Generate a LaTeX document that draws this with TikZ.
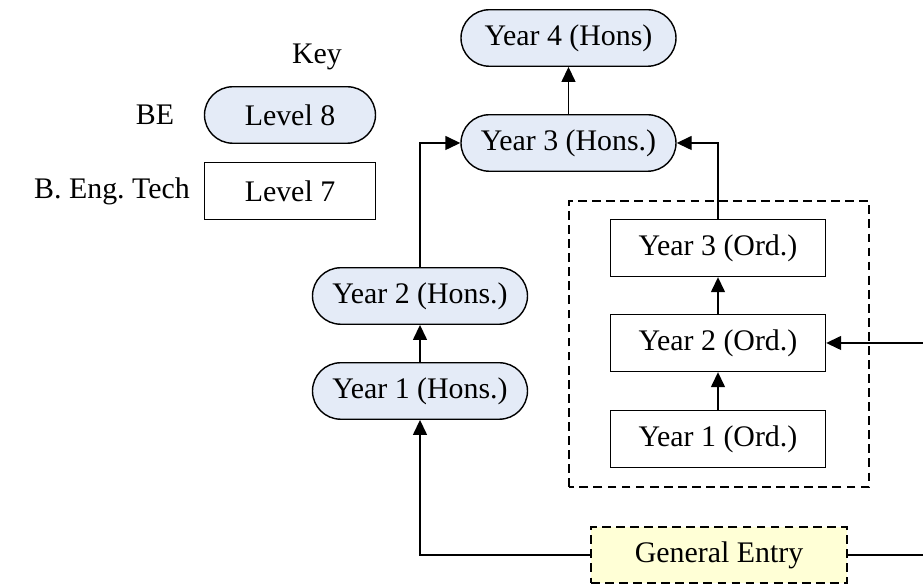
\documentclass[tikz,border=0pt]{standalone}
\usepackage{fontspec}
\setmainfont{Liberation Serif}
\usepackage{xcolor}
\usetikzlibrary{arrows.meta}
\definecolor{hons}{HTML}{E4EBF7}
\definecolor{entry}{HTML}{FFFFD6}
\newcommand{\yearfont}{\fontsize{17}{20}\selectfont}

\begin{document}
\begin{tikzpicture}[
    every node/.style={font=\yearfont},
    level8/.style={draw,line width=0.8pt,fill=hons,rounded corners=0.565cm,
      minimum width=4.3cm,minimum height=1.13cm},
    level7/.style={draw,line width=0.8pt,minimum width=4.3cm,minimum height=1.14cm},
    entrybox/.style={draw,line width=0.8pt,fill=entry,dash pattern=on 5pt off 3pt,
      minimum width=5.12cm,minimum height=1.12cm},
    link/.style={line width=0.8pt,-{Triangle[length=3mm,width=2.8mm]}}
  ]
    \useasboundingbox (0,0) rectangle (18.46,11.7);

    % key
    \node (key) at (6.34,10.56) {Key};
    \node (be) at (3.10,9.40) {BE};
    \node[level8,minimum width=3.42cm] (lv8) at (5.80,9.40) {Level 8};
    \node (tech) at (2.24,7.88) {B.\ Eng.\ Tech};
    \node[level7,minimum width=3.42cm] (lv7) at (5.80,7.88) {Level 7};

    % honours route
    \node[level8] (y4h) at (11.37,10.94) {Year 4 (Hons)};
    \node[level8] (y3h) at (11.37,8.84) {Year 3 (Hons.)};
    \node[level8] (y2h) at (8.40,5.78) {Year 2 (Hons.)};
    \node[level8] (y1h) at (8.40,3.88) {Year 1 (Hons.)};

    % ordinary route
    \draw[line width=0.8pt,dash pattern=on 5pt off 3pt] (11.38,1.96) rectangle (17.38,7.68);
    \node[level7] (y3o) at (14.36,6.74) {Year 3 (Ord.)};
    \node[level7] (y2o) at (14.36,4.84) {Year 2 (Ord.)};
    \node[level7] (y1o) at (14.36,2.92) {Year 1 (Ord.)};

    \node[entrybox] (ge) at (14.38,0.60) {General Entry};
    \coordinate (geout) at (18.46,0.60);
    \coordinate (ordin) at (18.46,4.84);

    \draw[link] (y1h) -- (y2h);
    \draw[link] (y3h) -- (y4h);
    \draw[link] (y2h.north) |- (y3h.west);
    \draw[link] (y3o.north) |- (y3h.east);
    \draw[link] (y1o) -- (y2o);
    \draw[link] (y2o) -- (y3o);
    \draw[link] (ge.west) -| (y1h.south);
    \draw[line width=0.8pt] (ge.east) -- (geout);
    \draw[link] (ordin) -- (y2o.east);
\end{tikzpicture}
\end{document}
